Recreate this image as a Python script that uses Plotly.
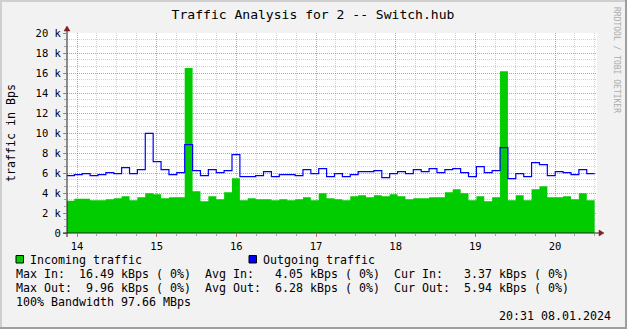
import numpy as np
import plotly.graph_objects as go

# ---------------- data (kBps per consolidated step) ----------------
incoming_k = [3.23, 3.43, 3.43, 3.27, 3.27, 3.37, 3.47, 3.67, 3.27, 3.57,
              3.97, 3.87, 3.47, 3.57, 3.57, 16.49, 4.17, 3.17, 3.67, 3.37,
              4.07, 5.47, 3.27, 3.47, 3.37, 3.37, 3.27, 3.37, 3.27, 3.37,
              3.57, 3.27, 3.97, 3.47, 3.37, 3.27, 3.67, 3.77, 3.57, 3.77,
              3.67, 3.87, 3.67, 3.37, 3.47, 3.47, 3.57, 3.57, 4.07, 4.37,
              3.97, 3.27, 3.67, 3.17, 3.57, 16.17, 3.27, 3.77, 3.27, 4.37,
              4.67, 3.57, 3.57, 3.67, 3.37, 3.97, 3.27]
outgoing_k = [5.73, 5.83, 5.93, 5.73, 5.83, 6.03, 5.93, 6.53, 5.93, 6.33,
              9.96, 7.13, 6.33, 5.83, 6.03, 8.83, 6.23, 5.73, 6.33, 6.03,
              6.23, 7.83, 5.63, 5.63, 5.73, 6.13, 5.63, 5.83, 5.83, 5.73,
              6.33, 5.93, 6.43, 5.63, 5.93, 5.63, 5.83, 6.13, 6.13, 6.23,
              5.53, 5.93, 6.13, 5.93, 6.33, 6.13, 6.43, 6.03, 6.33, 6.43,
              6.03, 5.63, 6.63, 6.03, 6.23, 8.53, 5.43, 5.93, 5.63, 7.03,
              6.83, 5.73, 6.13, 6.03, 5.83, 6.33, 5.94]
t_start = 13.8676      # day-of-month of first sample
t_step = 0.09895       # days per consolidated sample
day_ticks = [14, 15, 16, 17, 18, 19, 20]
day_labels = ["14", "15", "16", "17", "18", "19", "20"]
y_ticks = [0, 2000, 4000, 6000, 8000, 10000, 12000, 14000, 16000, 18000, 20000]
y_labels = ["0", "2 k", "4 k", "6 k", "8 k", "10 k", "12 k", "14 k", "16 k", "18 k", "20 k"]

title = "Traffic Analysis for 2 -- Switch.hub"
legend_rows = [
    "Max In:  16.49 kBps ( 0%)  Avg In:   4.05 kBps ( 0%)  Cur In:   3.37 kBps ( 0%)",
    "Max Out:  9.96 kBps ( 0%)  Avg Out:  6.28 kBps ( 0%)  Cur Out:  5.94 kBps ( 0%)",
    "100% Bandwidth 97.66 MBps",
]
stamp = "20:31 08.01.2024"

# ---------------- geometry helpers ----------------
W, H = 627, 329
L, R, T, B = 67, 30, 33, 96
PW, PH = W - L - R, H - T - B
def px(x):
    return (x - L) / PW
def py(y):
    return (H - B - y) / PH

MONO = "DejaVu Sans Mono"

edges = t_start + t_step * np.arange(len(incoming_k) + 1)
inc = np.array(incoming_k + [incoming_k[-1]]) * 1000
out = np.array(outgoing_k + [outgoing_k[-1]]) * 1000

fig = go.Figure()
fig.add_trace(go.Scatter(x=edges, y=inc, mode="lines",
                         line=dict(shape="hv", width=0, color="#00cc00"),
                         fill="tozeroy", fillcolor="#00cc00", hoverinfo="skip"))
fig.add_trace(go.Scatter(x=edges, y=out, mode="lines",
                         line=dict(shape="hv", width=1.2, color="#0000ff"),
                         hoverinfo="skip"))

major_grid = "rgba(222,79,79,0.45)"
minor_grid = "rgba(143,143,143,0.40)"

fig.update_layout(
    width=W, height=H, autosize=False,
    margin=dict(l=L, r=R, t=T, b=B, pad=0),
    paper_bgcolor="#f2f2f2", plot_bgcolor="#ffffff",
    showlegend=False,
    font=dict(family=MONO, color="#000000"),
    title=dict(text=title, x=313 / W, xanchor="center", y=1 - 14 / H, yanchor="middle",
               font=dict(family=MONO, size=13.05, color="#000000")),
    xaxis=dict(range=[14 + (L - 77) / 79.67, 14 + (L + PW - 77) / 79.67],
               tickmode="array", tickvals=day_ticks, ticktext=day_labels,
               showgrid=True, gridcolor=major_grid, griddash="1px,1px", gridwidth=1,
               ticks="outside", ticklen=3, tickcolor="rgba(222,79,79,0.8)",
               tickfont=dict(family=MONO, size=10.5, color="#000000"),
               zeroline=False, showline=False, fixedrange=True,
               minor=dict(dtick=0.25, tick0=14, showgrid=True, gridcolor=minor_grid,
                          griddash="1px,1px", ticks="outside", ticklen=2,
                          tickcolor="rgba(143,143,143,0.8)")),
    yaxis=dict(range=[0, 20000], tickmode="array", tickvals=y_ticks, ticktext=y_labels,
               showgrid=True, gridcolor=major_grid, griddash="1px,1px", gridwidth=1,
               ticks="outside", ticklen=3, tickcolor="rgba(222,79,79,0.8)",
               tickfont=dict(family=MONO, size=10.5, color="#000000"),
               zeroline=False, showline=False, fixedrange=True,
               minor=dict(dtick=2000 / 3, tick0=0, showgrid=True, gridcolor=minor_grid,
                          griddash="1px,1px", ticks="outside", ticklen=2,
                          tickcolor="rgba(143,143,143,0.8)")),
)

shapes = []
# 3D frame
shapes.append(dict(type="rect", xref="paper", yref="paper", x0=px(0), x1=px(W), y0=py(0), y1=py(2),
                   fillcolor="#cfcfcf", line=dict(width=0), layer="above"))
shapes.append(dict(type="rect", xref="paper", yref="paper", x0=px(0), x1=px(2), y0=py(0), y1=py(H),
                   fillcolor="#cfcfcf", line=dict(width=0), layer="above"))
shapes.append(dict(type="rect", xref="paper", yref="paper", x0=px(0), x1=px(W), y0=py(H - 2), y1=py(H),
                   fillcolor="#9e9e9e", line=dict(width=0), layer="above"))
shapes.append(dict(type="rect", xref="paper", yref="paper", x0=px(W - 2), x1=px(W), y0=py(0), y1=py(H),
                   fillcolor="#9e9e9e", line=dict(width=0), layer="above"))
# axes
axis_col = "#1f1f1f"
arrow_col = "#801f1f"
shapes.append(dict(type="line", xref="paper", yref="paper", x0=px(L - 4), x1=px(L + PW + 2),
                   y0=0, y1=0, line=dict(color=axis_col, width=1), layer="above"))
shapes.append(dict(type="line", xref="paper", yref="paper", x0=0, x1=0,
                   y0=py(H - B + 4), y1=py(T - 2), line=dict(color=axis_col, width=1), layer="above"))
xe = L + PW
yb = H - B
shapes.append(dict(type="path", xref="paper", yref="paper",
                   path=f"M {px(xe+2)} {py(yb-3)} L {px(xe+2)} {py(yb+3)} L {px(xe+7)} {py(yb)} Z",
                   fillcolor=arrow_col, line=dict(color=arrow_col, width=0.5), layer="above"))
shapes.append(dict(type="path", xref="paper", yref="paper",
                   path=f"M {px(L-3)} {py(T-2)} L {px(L+3)} {py(T-2)} L {px(L)} {py(T-7)} Z",
                   fillcolor=arrow_col, line=dict(color=arrow_col, width=0.5), layer="above"))
# legend boxes
shapes.append(dict(type="rect", xref="paper", yref="paper", x0=px(16), x1=px(23.5), y0=py(263), y1=py(255.5),
                   fillcolor="#00cc00", line=dict(color="#000000", width=1), layer="above"))
shapes.append(dict(type="rect", xref="paper", yref="paper", x0=px(249), x1=px(256.5), y0=py(263), y1=py(255.5),
                   fillcolor="#0000ff", line=dict(color="#000000", width=1), layer="above"))
fig.update_layout(shapes=shapes)

def nb(s):
    return s.replace(" ", "\u00a0")

ann = []
def text(s, x, y, xanchor="left", size=11.63, color="#000000", angle=0, yanchor="middle"):
    ann.append(dict(text=nb(s), xref="paper", yref="paper", x=px(x), y=py(y),
                    xanchor=xanchor, yanchor=yanchor, showarrow=False, textangle=angle,
                    borderpad=0, borderwidth=0,
                    font=dict(family=MONO, size=size, color=color)))

text("Incoming traffic", 30, 259.5)
text("Outgoing traffic", 263, 259.5)
for i, row in enumerate(legend_rows):
    text(row, 15.5, 273.5 + i * 14)
text(stamp, 611, 315.5, xanchor="right")
text("traffic in Bps", 11, 133, xanchor="center", angle=-90)
text("RRDTOOL / TOBI OETIKER", 617, 60, xanchor="center", size=8, color="#ababab", angle=90)
fig.update_layout(annotations=ann)

fig.write_html("out.html")
